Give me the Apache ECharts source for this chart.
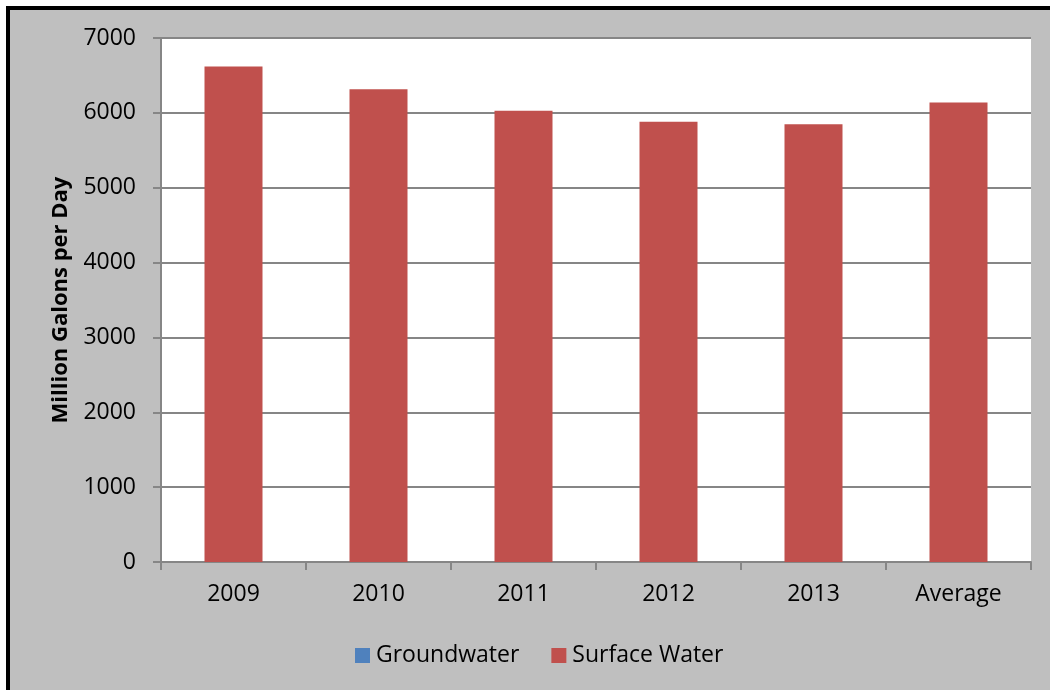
<!DOCTYPE html>
<html>
<head>
<meta charset="utf-8">
<script src="https://cdn.jsdelivr.net/npm/echarts@6/dist/echarts.min.js"></script>
<style>
  html, body { margin: 0; padding: 0; background: #ffffff; }
  #chart { width: 1050px; height: 690px; }
</style>
</head>
<body>
<div id="chart"></div>
<script>
// Water withdrawals by source, million gallons per day
const categories = ['2009', '2010', '2011', '2012', '2013', 'Average'];
const groundwater = [0, 0, 0, 0, 0, 0];
const surfaceWater = [6619, 6317, 6027, 5880, 5849, 6138];
const yTicks = { min: 0, max: 7000, interval: 1000 };

const FONT = '"Open Sans", "Liberation Sans", sans-serif';
const chart = echarts.init(document.getElementById('chart'), null, { renderer: 'canvas' });

chart.setOption({
  backgroundColor: '#ffffff',
  animation: false,
  textStyle: { fontFamily: FONT },
  graphic: [
    { type: 'rect', z: -10, shape: { x: 10, y: 10, width: 1040, height: 680 }, style: { fill: '#bfbfbf' } },
    { type: 'rect', z: -5, shape: { x: 6, y: 6, width: 4, height: 684 }, style: { fill: '#000000' } },
    { type: 'rect', z: -5, shape: { x: 6, y: 6, width: 1044, height: 4 }, style: { fill: '#000000' } }
  ],
  grid: {
    left: 161, right: 19, top: 38, bottom: 128,
    show: true, backgroundColor: '#ffffff', borderWidth: 0
  },
  legend: {
    left: 350, top: 639,
    itemWidth: 15, itemHeight: 15, itemGap: 32,
    icon: 'rect',
    textStyle: { fontSize: 23, color: '#000000', fontFamily: FONT, padding: [0, 0, 0, 1] },
    data: ['Groundwater', 'Surface Water']
  },
  xAxis: {
    type: 'category',
    data: categories,
    axisLine: { lineStyle: { color: '#868686', width: 2 } },
    axisTick: { show: true, length: 8, lineStyle: { color: '#868686', width: 2 } },
    axisLabel: { color: '#000000', fontSize: 23, margin: 21, fontFamily: FONT }
  },
  yAxis: {
    type: 'value',
    min: yTicks.min, max: yTicks.max, interval: yTicks.interval,
    name: 'Million Galons per Day',
    nameLocation: 'middle',
    nameGap: 89,
    nameTextStyle: { fontSize: 22, fontWeight: 'bold', color: '#000000', fontFamily: FONT },
    axisLine: { show: true, lineStyle: { color: '#868686', width: 2 } },
    axisTick: { show: true, length: 8, lineStyle: { color: '#868686', width: 2 } },
    axisLabel: { color: '#000000', fontSize: 23, margin: 25, fontFamily: FONT, formatter: v => String(v) },
    splitLine: { show: true, lineStyle: { color: '#868686', width: 2 } }
  },
  series: [
    {
      name: 'Groundwater', type: 'bar', stack: 'total',
      data: groundwater, barWidth: '40%',
      itemStyle: { color: '#4f81bd' }
    },
    {
      name: 'Surface Water', type: 'bar', stack: 'total',
      data: surfaceWater, barWidth: '40%',
      itemStyle: { color: '#c0504d' }
    }
  ]
});
</script>
</body>
</html>
